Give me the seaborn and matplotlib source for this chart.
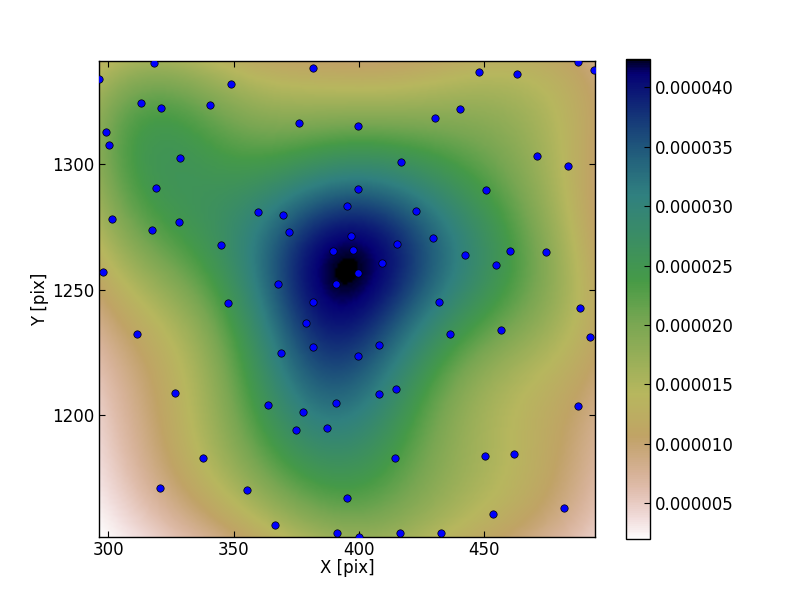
import numpy as np
import pandas as pd
import matplotlib
matplotlib.use("Agg")
import matplotlib.pyplot as plt
import seaborn as sns
from seaborn.external.kde import gaussian_kde

# Source positions
x_pix = [296.4, 318.3, 349.1, 381.8, 448.0, 463.2, 487.5, 493.9, 313.2, 321.1, 340.7, 376.2,
         299.2, 300.4, 328.7, 319.1, 301.6, 317.6, 328.3, 345.1, 359.8, 369.8, 372.2, 395.3,
         389.8, 297.8, 367.8, 391.0, 396.9, 397.7, 399.7, 430.4, 440.4, 416.9, 471.1, 483.5,
         450.8, 399.7, 422.9, 415.3, 429.6, 409.3, 399.7, 442.4, 454.8, 460.4, 474.7, 432.0,
         347.9, 381.8, 379.0, 311.6, 369.0, 381.8, 326.7, 363.8, 377.8, 391.0, 375.0, 387.4,
         337.9, 320.7, 355.4, 395.3, 366.6, 391.4, 400.1, 416.5, 432.8, 488.3, 456.8, 436.4,
         492.3, 408.1, 399.7, 408.1, 414.9, 487.5, 414.5, 450.4, 462.0, 453.6, 481.9]
y_pix = [1333.9, 1340.5, 1331.9, 1338.3, 1336.7, 1335.9, 1340.8, 1337.5, 1324.3, 1322.3, 1323.5, 1316.4,
         1312.8, 1307.6, 1302.4, 1290.4, 1278.1, 1273.7, 1276.9, 1267.7, 1280.9, 1279.7, 1272.9, 1283.2,
         1265.3, 1256.9, 1252.1, 1252.1, 1271.3, 1265.7, 1315.2, 1318.7, 1321.9, 1300.8, 1303.2, 1299.2,
         1289.6, 1290.0, 1281.3, 1268.1, 1270.5, 1260.5, 1256.5, 1263.7, 1259.7, 1265.3, 1264.9, 1244.9,
         1244.6, 1244.9, 1236.6, 1232.2, 1224.6, 1227.0, 1208.6, 1203.9, 1201.1, 1204.7, 1193.9, 1194.7,
         1182.7, 1170.8, 1170.0, 1166.8, 1156.0, 1152.8, 1151.3, 1152.8, 1152.8, 1242.6, 1233.8, 1232.2,
         1231.0, 1227.8, 1223.4, 1208.3, 1210.2, 1203.5, 1182.7, 1183.5, 1184.3, 1160.4, 1162.8]
x_ticks = [300, 350, 400, 450]
y_ticks = [1200, 1250, 1300]
cbar_ticks = [0.000005, 0.00001, 0.000015, 0.00002, 0.000025, 0.00003, 0.000035, 0.00004]

plt.rcParams.update({"xtick.direction": "in", "ytick.direction": "in",
                     "xtick.top": True, "ytick.right": True,
                     "xtick.major.size": 4, "ytick.major.size": 4,
                     "font.size": 12, "axes.linewidth": 1.0})

df = pd.DataFrame({"x": x_pix, "y": y_pix})
xlim = (296.4, 494.4)
ylim = (1151.4, 1341.1)

# density of the sources on a grid
kde = gaussian_kde(np.vstack([df["x"], df["y"]]))
gx, gy = np.meshgrid(np.linspace(*xlim, 200), np.linspace(*ylim, 200))
dens = kde(np.vstack([gx.ravel(), gy.ravel()])).reshape(gx.shape)

fig = plt.figure(figsize=(8, 6), dpi=100)
ax = fig.add_axes([99.3 / 800, 63 / 600, 496 / 800, 476 / 600])
im = ax.imshow(dens, origin="lower", extent=[*xlim, *ylim], cmap="gist_earth_r",
               vmin=0.00000197, vmax=0.0000424, aspect="equal", interpolation="bilinear")
sns.scatterplot(data=df, x="x", y="y", ax=ax, color="blue", s=28, edgecolor="black",
                linewidth=0.5, legend=False, zorder=3)
ax.set_xlim(*xlim)
ax.set_ylim(*ylim)
ax.set_xticks(x_ticks)
ax.set_yticks(y_ticks)
ax.set_xlabel("X [pix]", labelpad=0)
ax.set_ylabel("Y [pix]", labelpad=2)

cax = fig.add_axes([626 / 800, 61 / 600, 24 / 800, 480 / 600])
cb = fig.colorbar(im, cax=cax, ticks=cbar_ticks, format="%.6f")
cb.ax.tick_params(direction="in", length=4, right=True)

fig.savefig("out.png", dpi=100)
